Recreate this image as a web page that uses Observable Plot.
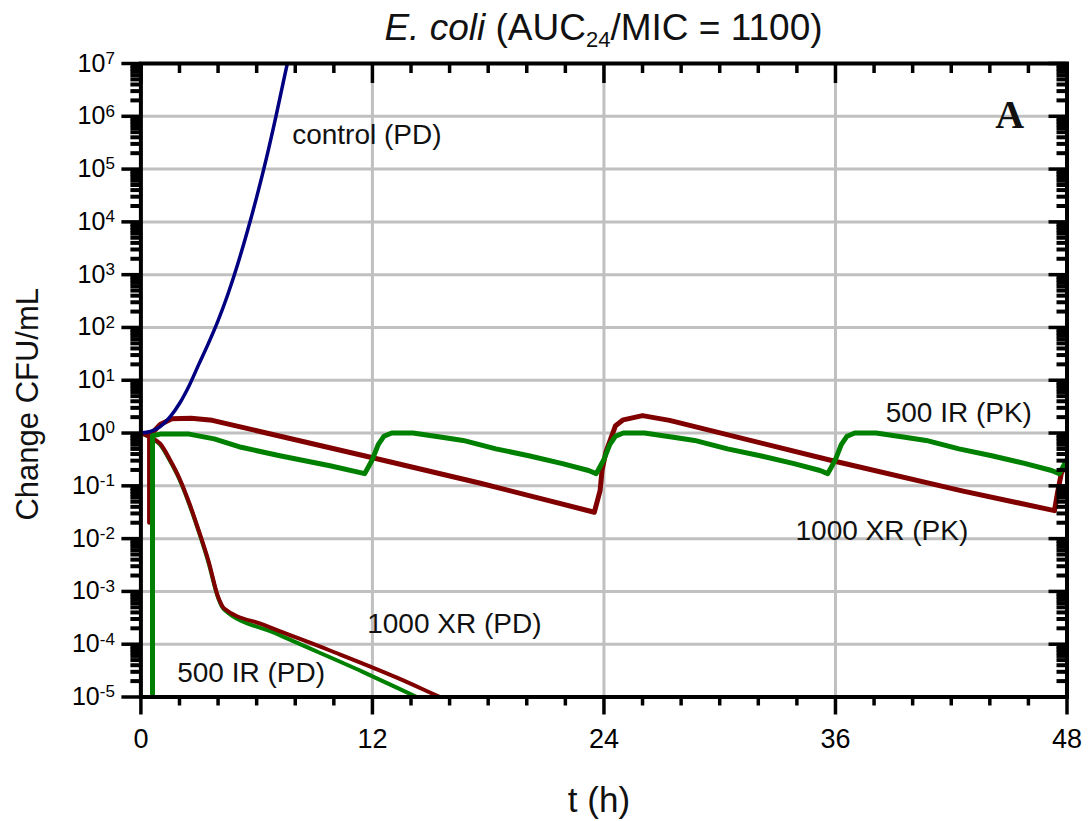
<!DOCTYPE html>
<html><head><meta charset="utf-8">
<script src="https://cdn.jsdelivr.net/npm/d3@7"></script>
<script src="https://cdn.jsdelivr.net/npm/@observablehq/plot@0.6"></script>
<style>
body{margin:0;background:#fff;}
#title{box-sizing:border-box;height:50px;width:1088px;padding-left:140px;padding-right:21px;padding-top:6px;text-align:center;font-family:"Liberation Sans",Arial,sans-serif;font-size:37px;line-height:44px;color:#111;white-space:nowrap;}
#title sub{font-size:22px;vertical-align:-7px;line-height:0;}
#chart svg{display:block;}
</style></head><body>
<div id="title"><i>E. coli</i> (AUC<sub>24</sub>/MIC = 1100)</div>
<div id="chart"></div>
<script>
// ---- data ----
const controlT = [0, 0.5, 1, 1.5, 2, 2.5, 3, 3.5, 4, 4.5, 5, 5.5, 6, 6.5, 7, 7.5, 7.8];
const controlV = [1, 1.07, 1.32, 2.0, 3.63, 7.9, 20, 50, 135, 417, 1510, 6310, 2.95e4, 1.58e5, 1e6, 7.1e6, 2.2e7];

const xrPdT = [0, 0.5, 1.0, 1.5, 2.0, 2.5, 3.0, 3.5, 4.0, 4.3, 6.4, 9.8, 13.3, 15.5, 16];
const xrPdV = [1, 0.83, 0.63, 0.316, 0.138, 0.0479, 0.0141, 0.0038, 7.9e-4, 4.8e-4, 2.3e-4, 7.6e-5, 2.3e-5, 1e-5, 8.3e-6];

const irPdT = [0, 0.5, 1.0, 1.5, 2.0, 2.5, 3.0, 3.5, 4.0, 4.3, 7.0, 11.5, 14.3, 15];
const irPdV = [1, 0.81, 0.60, 0.30, 0.132, 0.0457, 0.0135, 0.00355, 7.6e-4, 4.6e-4, 1.6e-4, 3.0e-5, 1e-5, 7.6e-6];

const xrPkT = [0.45, 0.45, 1.0, 1.6, 2.6, 3.7, 11.9, 17.6, 23.5, 23.8, 23.9, 24.1, 24.35, 24.6, 25.0, 26.0, 27.4, 35.8, 42.5, 47.35, 47.5, 47.7, 48.0];
const xrPkV = [0.0204, 0.89, 1.45, 1.86, 1.9, 1.74, 0.347, 0.112, 0.0316, 0.081, 0.195, 0.437, 0.776, 1.38, 1.78, 2.14, 1.74, 0.302, 0.0813, 0.0339, 0.0708, 0.17, 0.3];

const irPkT = [0.6, 0.6, 1.0, 2.5, 3.8, 5.2, 7.2, 9.8, 11.6,
  12.0, 12.3, 12.6, 13.0, 14.1, 15.6, 16.7, 18.4, 20.1, 21.85, 23.2, 23.6,
  24.0, 24.3, 24.6, 25.0, 26.1, 27.6, 28.7, 30.4, 32.1, 33.85, 35.2, 35.6,
  36.0, 36.3, 36.6, 37.0, 38.1, 39.6, 40.7, 42.4, 44.1, 45.85, 47.2, 47.6, 48.0];
const irPkV = [1e-6, 0.891, 0.955, 0.955, 0.776, 0.537, 0.372, 0.24, 0.17,
  0.316, 0.603, 0.871, 1.0, 1.0, 0.832, 0.724, 0.501, 0.372, 0.263, 0.195, 0.17,
  0.316, 0.603, 0.871, 1.0, 1.0, 0.832, 0.724, 0.501, 0.372, 0.263, 0.195, 0.17,
  0.316, 0.603, 0.871, 1.0, 1.0, 0.832, 0.724, 0.501, 0.372, 0.263, 0.195, 0.17, 0.316];

const xTickLabels = [0, 12, 24, 36, 48];
const yTickExps = [-5, -4, -3, -2, -1, 0, 1, 2, 3, 4, 5, 6, 7];

const curveLabels = ["control (PD)", "500 IR (PK)", "1000 XR (PK)", "1000 XR (PD)", "500 IR (PD)"];
const curveLabelT = [7.84, 38.6, 33.93, 11.73, 1.88];
const curveLabelV = [4.5e5, 2.44, 0.0142, 2.46e-4, 2.9e-5];

// ---- build tables ----
const zip = (T, V) => T.map((t, i) => ({t, v: V[i]}));
const control = zip(controlT, controlV);
const xrPd = zip(xrPdT, xrPdV);
const irPd = zip(irPdT, irPdV);
const xrPk = zip(xrPkT, xrPkV);
const irPk = zip(irPkT, irPkV);
const labels = curveLabels.map((s, i) => ({s, t: curveLabelT[i], v: curveLabelV[i]}));

const yMajor = yTickExps.map(k => Math.pow(10, k));
const yMinor = [];
for (let k = -5; k < 7; k++) for (let m = 2; m <= 9; m++) yMinor.push(m * Math.pow(10, k));
const xAll = d3.range(0, 49, 2);
const xMinor = xAll.filter(d => d % 12 !== 0);

const W = 1088, H = 771, mL = 140.4, mR = 21.5, mT = 13, mB = 124.5;
const fW = W - mL - mR, fH = H - mT - mB;
const tw = 3.5;

const chart = Plot.plot({
  width: W, height: H,
  marginLeft: mL, marginRight: mR, marginTop: mT, marginBottom: mB,
  style: {fontFamily: "'Liberation Sans', Arial, sans-serif", color: "#000", background: "#fff"},
  x: {domain: [0, 48]},
  y: {type: "log", domain: [1e-5, 1e7]},
  marks: [
    Plot.gridY(yMajor.slice(1, -1), {stroke: "#c0c0c0", strokeOpacity: 1, strokeWidth: 3}),
    Plot.gridX([12, 24, 36], {stroke: "#c0c0c0", strokeOpacity: 1, strokeWidth: 3}),
    Plot.line(irPd, {x: "t", y: "v", stroke: "#008000", strokeWidth: 4, curve: "monotone-x", clip: true}),
    Plot.line(xrPd, {x: "t", y: "v", stroke: "#800000", strokeWidth: 4, curve: "monotone-x", clip: true}),
    Plot.line(xrPk, {x: "t", y: "v", stroke: "#800000", strokeWidth: 5, clip: true}),
    Plot.line(irPk, {x: "t", y: "v", stroke: "#008000", strokeWidth: 5, clip: true}),
    Plot.line(control, {x: "t", y: "v", stroke: "#000080", strokeWidth: 3.5, curve: "monotone-x", clip: true}),
    // left minor ticks (outward)
    Plot.tickY(yMinor, {y: d => d, insetLeft: -10, insetRight: fW, stroke: "#000", strokeWidth: 4}),
    // right ticks (inward)
    Plot.tickY(yMinor, {y: d => d, insetLeft: fW - 10, stroke: "#000", strokeWidth: 4}),
    Plot.tickY(yMajor, {y: d => d, insetLeft: fW - 18, stroke: "#000", strokeWidth: tw}),
    // top ticks (inward)
    Plot.tickX(xMinor, {x: d => d, insetBottom: fH - 10, stroke: "#000", strokeWidth: tw}),
    Plot.tickX(xTickLabels, {x: d => d, insetBottom: fH - 20, stroke: "#000", strokeWidth: tw}),
    // bottom minor ticks (outward)
    Plot.tickX(xMinor, {x: d => d, insetTop: fH, insetBottom: -9, stroke: "#000", strokeWidth: tw}),
    Plot.axisX({ticks: xTickLabels, tickSize: 18, tickPadding: 14, fontSize: 27, strokeWidth: tw, label: null, tickFormat: d => String(d)}),
    Plot.axisY({ticks: yMajor, tickSize: 19, tickPadding: 7, fontSize: 25, strokeWidth: tw, label: null,
      tickFormat: d => "10^" + Math.round(Math.log10(d))}),
    Plot.frame({stroke: "#000", strokeWidth: 4}),
    Plot.text(labels, {x: "t", y: "v", text: "s", textAnchor: "start", fontSize: 28, fill: "#111"}),
    Plot.text(["A"], {x: [45.03], y: [1.07e6], fontFamily: "'Liberation Serif', 'Times New Roman', serif", fontWeight: "bold", fontSize: 40, fill: "#111"}),
    Plot.text(["t (h)"], {frameAnchor: "bottom", textAnchor: "middle", lineAnchor: "middle", dy: 104, dx: -5, fontSize: 35, fill: "#111"}),
    Plot.text(["Change CFU/mL"], {frameAnchor: "left", textAnchor: "middle", lineAnchor: "middle", rotate: -90, dx: -113, dy: 24, fontSize: 31, fill: "#111"})
  ]
});

chart.querySelectorAll('g[aria-label="y-axis tick label"] text').forEach(t => {
  const m = t.textContent.match(/^10\^(-?\d+)$/);
  if (!m) return;
  t.textContent = "10";
  const ts = document.createElementNS("http://www.w3.org/2000/svg", "tspan");
  ts.setAttribute("dy", "-0.45em");
  ts.setAttribute("font-size", "17");
  ts.textContent = m[1];
  t.appendChild(ts);
});

document.getElementById("chart").appendChild(chart);
</script></body></html>
